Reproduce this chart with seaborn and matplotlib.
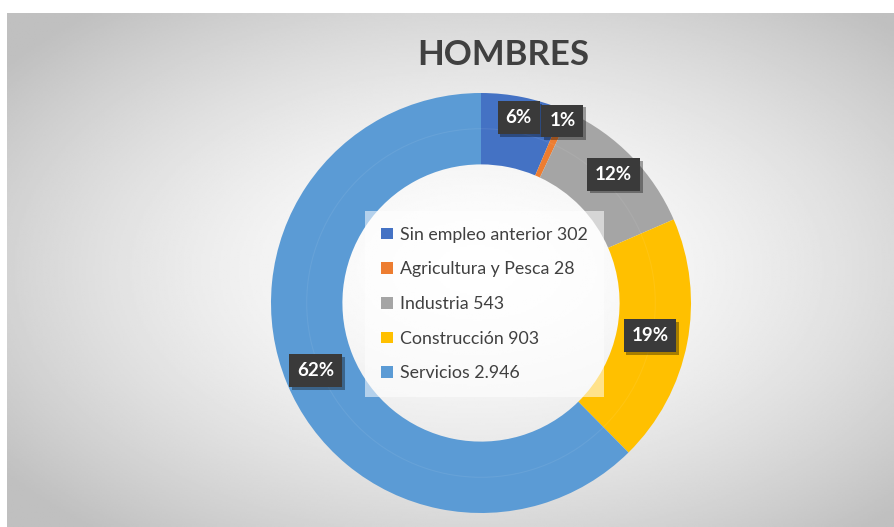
import numpy as np
import matplotlib.pyplot as plt
import matplotlib.patheffects as pe
import seaborn as sns

# Data
sectores = ["Sin empleo anterior", "Agricultura y Pesca", "Industria", "Construcción", "Servicios"]
valores = [302, 28, 543, 903, 2946]
valores_txt = ["302", "28", "543", "903", "2.946"]
colores = ["#4472C4", "#ED7D31", "#A5A5A5", "#FFC000", "#5B9BD5"]

sns.set_theme(style="white")
plt.rcParams['font.family'] = ['Lato', 'DejaVu Sans']

W, H = 894, 527
fig = plt.figure(figsize=(W / 100, H / 100), dpi=100)
fig.patch.set_facecolor("white")

# radial gradient background
bg = fig.add_axes([7 / W, 0, 1 - 7 / W, (H - 13) / H])
yy, xx = np.mgrid[0:1:300j, 0:1:500j]
d = np.sqrt(((xx - 0.53) / 0.75) ** 2 + ((yy - 0.5) / 0.75) ** 2)
shade = np.clip(1.0 - 0.3 * d ** 1.6, 0.75, 1.0)
bg.imshow(shade, cmap="gray", vmin=0, vmax=1, aspect="auto", extent=[0, 1, 0, 1])
bg.set_axis_off()

# donut
cx, cy, r = 481, 303, 210
ax = fig.add_axes([(cx - r) / W, (H - cy - r) / H, 2 * r / W, 2 * r / H])
total = sum(valores)
wedges, _ = ax.pie(valores, colors=colores, startangle=90, counterclock=False,
                   radius=1.0, wedgeprops=dict(width=0.34, edgecolor="none"))
# faint inner ring line like the original
ax.add_patch(plt.Circle((0, 0), 0.83, fill=False, ec="white", lw=0.8, alpha=0.07))
ax.set_xlim(-1, 1)
ax.set_ylim(-1, 1)
ax.set_aspect("equal")
ax.set_axis_off()

# percentages (largest remainder so they add up to 100)
raw = [100 * v / total for v in valores]
pct = [int(p) for p in raw]
order = sorted(range(len(raw)), key=lambda i: raw[i] - pct[i], reverse=True)
for i in order[:100 - sum(pct)]:
    pct[i] += 1

# percentage labels in dark boxes
label_r = [0.9, 0.95, 0.88, 0.82, 0.85]
for w, p, lr in zip(wedges, pct, label_r):
    ang = np.deg2rad((w.theta1 + w.theta2) / 2)
    x, y = lr * np.cos(ang), lr * np.sin(ang)
    t = ax.text(x, y, f"{p}%", ha="center", va="center", fontsize=13.5,
                fontweight="bold", color="white",
                bbox=dict(boxstyle="square,pad=0.42", fc="#3a3a3a", ec="none"))
    t.get_bbox_patch().set_path_effects(
        [pe.withSimplePatchShadow(offset=(2, -2), shadow_rgbFace="black", alpha=0.35),
         pe.Normal()])

# legend in the hole
labels = [f"{s} {t}" for s, t in zip(sectores, valores_txt)]
leg = ax.legend(wedges, labels, loc="center", bbox_to_anchor=(0.508, 0.4975),
                frameon=True, fancybox=False, framealpha=0.55, edgecolor="none",
                fontsize=12.8, handlelength=0.65, handleheight=0.65,
                handletextpad=0.4, labelspacing=1.05, borderpad=0.9)
leg.get_frame().set_facecolor("white")
for t in leg.get_texts():
    t.set_color("#404040")

fig.text(503 / W, 1 - 55 / H, "HOMBRES", ha="center", va="center",
         fontsize=25, fontweight="bold", color="#404040")

fig.savefig("out.png", dpi=100)
